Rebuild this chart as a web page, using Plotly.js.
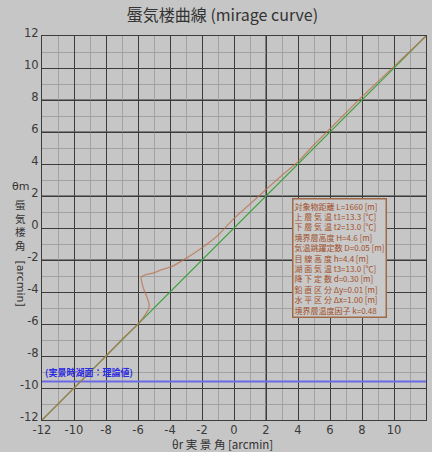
<!DOCTYPE html>
<html>
<head>
<meta charset="utf-8">
<script src="https://cdn.plot.ly/plotly-3.0.1.min.js"></script>
<style>
html,body{margin:0;padding:0;background:#c6c6c6;}
#chart{width:432px;height:452px;}
</style>
</head>
<body>
<div id="chart"></div>
<script>
// Mirage curve (brown): apparent angle vs real angle
const mirageX = [-12, -10, -8, -7, -6, -5.6, -5.35, -5.3, -5.45, -5.65, -5.8, -5.55, -5.0, -4.6, -3.9, -3.0, -2.2, -1.0, 0, 1, 2, 3, 4, 5, 6, 7, 8, 9, 10, 11, 12];
const mirageY = [-12, -10, -8, -6.95, -6.0, -5.5, -5.1, -4.8, -4.3, -3.8, -3.1, -2.93, -2.8, -2.63, -2.42, -1.9, -1.38, -0.45, 0.6, 1.5, 2.4, 3.3, 4.15, 5.2, 6.2, 7.2, 8.2, 9.15, 10.1, 11.05, 12];
// Reference line (green): theta_m = theta_r
const refX = [-12, 12];
const refY = [-12, 12];
// Lake surface theoretical value (blue)
const lakeX = [-12, 12];
const lakeY = [-9.6, -9.6];
const lakeLabel = '(実景時湖面：理論値)';
// Tick values
const tickVals = [-12, -10, -8, -6, -4, -2, 0, 2, 4, 6, 8, 10, 12];
// Parameter box lines
const paramLines = [
  '対象物距離 L=1660 [m]',
  '上 層 気 温 t1=13.3 [℃]',
  '下 層 気 温 t2=13.0 [℃]',
  '境界層高度 H=4.6 [m]',
  '気温跳躍定数 D=0.05 [m]',
  '目 線 高 度 h=4.4 [m]',
  '湖 面 気 温 t3=13.0 [℃]',
  '降 下 定 数 d=0.30 [m]',
  '鉛 直 区 分 Δy=0.01 [m]',
  '水 平 区 分 Δx=1.00 [m]',
  '境界層温度因子 k=0.48'
];
// Grid line styling overrides (values where the grid looks heavier gray / faint)
const heavyGrayY = [8, 6, 2, -2];
const heavyGrayX = [2];
const faintY = [4];

const FONT = '"DejaVu Sans", "Noto Sans CJK JP", sans-serif';
const CJK = '"Noto Sans CJK JP", "DejaVu Sans", sans-serif';
const BG = '#c6c6c6';

const traces = [
  {x: lakeX, y: lakeY, mode: 'lines', line: {color: '#6a6ae6', width: 2}, hoverinfo: 'skip'},
  {x: refX, y: refY, mode: 'lines', line: {color: '#3a9e3a', width: 1.2}, hoverinfo: 'skip'},
  {x: mirageX, y: mirageY, mode: 'lines', line: {color: '#b8704e', width: 1.3, shape: 'spline', smoothing: 0.6}, opacity: 0.72, hoverinfo: 'skip'}
];

const shapes = [];
heavyGrayY.forEach(v => shapes.push({type: 'line', layer: 'between', xref: 'paper', x0: 0, x1: 1, yref: 'y', y0: v, y1: v, line: {color: '#7c7c7c', width: 2}}));
heavyGrayX.forEach(v => shapes.push({type: 'line', layer: 'between', yref: 'paper', y0: 0, y1: 1, xref: 'x', x0: v, x1: v, line: {color: '#7c7c7c', width: 2}}));
faintY.forEach(v => shapes.push({type: 'line', layer: 'between', xref: 'paper', x0: 0, x1: 1, yref: 'y', y0: v, y1: v, line: {color: BG, width: 2}}));

const annotations = [
  {xref: 'x', yref: 'y', x: -11.95, y: -9.05, xanchor: 'left', yanchor: 'middle', showarrow: false,
   text: '<b>' + lakeLabel + '</b>', font: {family: CJK, size: 9, color: '#2a2ae0'}},
  {xref: 'x', yref: 'y', x: 3.62, y: 1.9, xanchor: 'left', yanchor: 'top', showarrow: false, align: 'left',
   text: paramLines.join('<br>'), font: {family: CJK, size: 8, color: '#a2502a'},
   bgcolor: '#c9c9c9', bordercolor: '#a06a48', borderwidth: 1.5, borderpad: 1},
  {xref: 'paper', yref: 'paper', x: -0.055, y: 0.607, xanchor: 'center', yanchor: 'middle', showarrow: false,
   text: 'θm', font: {family: FONT, size: 11, color: '#333'}},
  {xref: 'paper', yref: 'paper', x: -0.055, y: 0.507, xanchor: 'center', yanchor: 'middle', showarrow: false,
   text: '蜃<br>気<br>楼<br>角', font: {family: CJK, size: 10.5, color: '#333'}},
  {xref: 'paper', yref: 'paper', x: -0.055, y: 0.356, xanchor: 'center', yanchor: 'middle', showarrow: false,
   text: '[arcmin]', textangle: 90, font: {family: FONT, size: 11, color: '#333'}},
  {xref: 'paper', yref: 'paper', x: 0.47, y: -0.062, xanchor: 'center', yanchor: 'middle', showarrow: false,
   text: 'θr 実 景 角 [arcmin]', font: {family: CJK, size: 11.5, color: '#333'}}
];

const axisCommon = {
  range: [-12, 12], tickvals: tickVals, ticktext: tickVals.map(String),
  showgrid: true, gridcolor: '#3c3c3c', gridwidth: 1,
  minor: {dtick: 1, showgrid: true, gridcolor: '#a2a2a2', gridwidth: 1},
  zeroline: false, showline: true, linecolor: '#3c3c3c', linewidth: 1, mirror: true,
  ticks: '', tickfont: {family: FONT, size: 11.5, color: '#3a3a3a'}, fixedrange: true
};

const layout = {
  width: 432, height: 452,
  margin: {l: 42, r: 6, t: 36, b: 32},
  paper_bgcolor: BG, plot_bgcolor: BG,
  showlegend: false,
  title: {text: '蜃気楼曲線 (mirage curve)', font: {family: CJK, size: 16, color: '#333'}, x: 0.515, xanchor: 'center', y: 0.978, yanchor: 'top'},
  xaxis: Object.assign({}, axisCommon, {ticklabelstandoff: -1}),
  yaxis: Object.assign({}, axisCommon, {ticklabelstandoff: 0, ticklabelshift: -3}),
  shapes: shapes,
  annotations: annotations
};

Plotly.newPlot('chart', traces, layout, {displayModeBar: false, staticPlot: true});
</script>
</body>
</html>
